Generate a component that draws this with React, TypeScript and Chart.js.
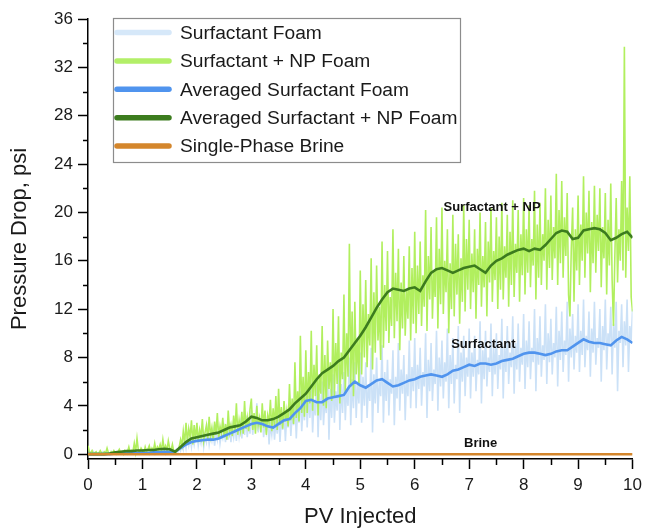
import React, { useEffect, useRef } from 'react';
import { Chart, registerables } from 'chart.js';

Chart.register(...registerables);

// ---------- data ----------
const RAW_STEP = 0.025; // PV spacing of the raw pressure samples
const AVG_STEP = 0.1; // PV spacing of the averaged curves

const surfactantFoam = [
  0.1, 0.0, 0.1, 0.0, 0.2, 0.0, 0.1, 0.0, 0.1, 0.1, 0.0, 0.2, 0.0, 0.1, 0.0, 0.1, 0.0, 0.2, 0.0, 0.1,
  0.0, 0.1, 0.0, 0.2, 0.1, 0.0, 0.1, 0.0, 0.2, 0.0, 0.1, 0.0, 0.1, 0.0, 0.2, 0.0, 0.1, 0.1, 0.0, 0.2,
  0.1, 0.0, 0.2, 0.1, 0.3, 0.0, 0.2, 0.1, 0.2, 0.0, 0.3, 0.1, 0.2, 0.1, 0.4, 0.1, 0.2, 0.0, 0.3, 0.1,
  0.2, 0.1, 0.3, 0.1, 0.2, 0.4, 0.2, 0.6, 0.3, 0.9, 0.4, 1.2, 0.5, 1.4, 0.7, 1.3, 0.6, 1.6, 0.8, 1.5,
  1.8, 0.7, 1.4, 0.9, 1.7, 0.6, 1.5, 1.0, 2.0, 0.8, 1.6, 1.1, 1.9, 0.7, 1.8, 1.2, 2.3, 0.9, 1.7, 1.3,
  2.1, 1.0, 2.4, 1.2, 2.6, 1.0, 2.2, 1.4, 2.4, 1.1, 2.7, 1.5, 2.5, 1.3, 2.9, 1.6, 3.2, 1.4, 2.8, 1.7,
  3.6, 1.6, 3.0, 2.0, 4.2, 1.8, 2.8, 2.2, 3.4, 1.4, 2.6, 1.9, 3.2, 0.8, 2.4, 1.6, 3.0, 1.2, 2.8, 1.7,
  3.5, 1.0, 2.9, 2.0, 3.8, 1.1, 3.2, 2.2, 4.0, 1.5, 3.4, 2.4, 4.4, 1.3, 3.8, 2.6, 5.2, 1.9, 4.2, 2.8,
  6.2, 2.2, 4.8, 3.0, 5.6, 1.8, 4.4, 3.2, 6.8, 1.4, 5.0, 2.8, 6.0, 2.4, 4.6, 3.4, 7.2, 1.2, 5.4, 3.0,
  6.6, 2.6, 5.2, 3.6, 7.4, 2.0, 5.8, 3.4, 6.8, 2.8, 5.4, 4.0, 8.0, 2.4, 6.2, 3.8, 7.6, 3.0, 6.0, 4.2,
  8.4, 2.6, 6.4, 4.0, 7.6, 3.0, 5.8, 4.4, 8.8, 1.8, 6.6, 4.2, 8.0, 3.4, 6.0, 4.8, 9.0, 2.6, 6.8, 4.4,
  7.8, 3.2, 6.2, 5.0, 8.6, 2.4, 6.4, 4.6, 9.2, 3.6, 7.0, 5.0, 8.2, 2.8, 6.6, 4.8, 9.4, 3.8, 7.2, 5.2,
  9.6, 3.8, 7.4, 5.4, 8.8, 4.0, 6.8, 5.6, 10.0, 3.0, 7.8, 5.2, 9.2, 4.4, 7.0, 5.8, 10.2, 3.6, 8.0, 5.6,
  9.4, 4.6, 7.6, 6.0, 10.4, 3.8, 8.2, 5.8, 9.6, 4.2, 7.4, 6.2, 10.6, 3.4, 8.4, 6.0, 9.8, 4.8, 8.0, 6.4,
  10.4, 4.6, 8.4, 6.4, 9.8, 5.2, 7.8, 6.6, 11.0, 4.2, 8.6, 6.2, 10.2, 5.6, 8.0, 6.8, 10.8, 4.8, 8.8, 6.6,
  10.0, 5.4, 8.2, 7.0, 11.2, 4.6, 9.0, 6.8, 10.6, 5.8, 8.4, 7.2, 11.4, 5.0, 9.2, 7.0, 10.8, 6.0, 8.8, 7.4,
  11.6, 5.4, 9.4, 7.2, 11.0, 6.2, 8.8, 7.6, 12.0, 5.2, 9.6, 7.4, 11.4, 6.4, 9.0, 7.8, 12.4, 5.8, 10.0, 7.6,
  11.2, 6.6, 9.2, 8.0, 12.2, 5.6, 10.2, 7.8, 11.8, 6.8, 9.4, 8.2, 12.6, 6.0, 10.4, 8.0, 11.6, 7.0, 9.8, 8.4,
  12.4, 6.8, 10.2, 8.2, 12.8, 7.2, 9.8, 8.6, 11.8, 6.4, 10.4, 8.4, 12.6, 7.4, 9.6, 8.8, 12.0, 6.0, 10.6, 8.6,
  12.8, 7.0, 10.0, 9.0, 12.2, 6.6, 10.8, 8.8, 12.6, 5.2, 10.2, 9.2, 12.4, 7.2, 11.0, 9.0, 12.8, 6.8, 10.6, 9.4,
  12.0,
];

const npFoam = [
  0.7, 0.2, 0.1, 0.3, 0.0, 0.1, 0.2, 0.0, 0.1, 0.3, 0.1, 0.0, 0.2, 0.1, 0.5, 0.1, 0.0, 0.2, 0.1, 0.3,
  0.1, 0.0, 0.2, 0.4, 0.1, 0.2, 0.0, 0.3, 0.1, 0.2, 0.6, 0.1, 0.3, 0.2, 0.9, 0.2, 1.3, 0.3, 0.2, 0.5,
  0.3, 0.1, 0.6, 0.2, 0.4, 0.7, 0.2, 0.5, 0.3, 0.9, 0.2, 0.6, 0.4, 0.8, 0.3, 1.2, 0.4, 0.7, 0.3, 1.1,
  0.5, 0.3, 0.8, 0.2, 0.3, 0.2, 0.4, 0.6, 1.2, 0.7, 1.9, 0.9, 2.6, 1.0, 2.1, 1.4, 2.8, 0.8, 2.4, 1.2,
  2.6, 1.0, 2.0, 1.4, 2.9, 1.1, 1.8, 2.4, 1.2, 3.1, 1.5, 2.2, 1.1, 2.7, 1.6, 3.4, 1.3, 2.3, 1.7, 3.0,
  1.4, 2.5, 1.2, 3.6, 1.8, 2.4, 1.5, 3.2, 1.9, 4.2, 1.6, 2.8, 2.0, 3.5, 1.7, 4.4, 2.1, 3.0, 1.9, 3.7,
  4.6, 2.0, 3.4, 1.7, 4.0, 2.4, 3.0, 1.8, 4.2, 2.2, 3.6, 1.6, 3.2, 2.6, 4.5, 1.9, 3.8, 2.3, 4.8, 2.0,
  5.4, 2.4, 3.9, 2.1, 4.4, 2.7, 3.6, 2.3, 5.8, 2.8, 4.6, 2.5, 7.6, 3.0, 5.2, 2.7, 9.8, 3.4, 6.4, 3.1,
  8.6, 3.4, 6.8, 4.2, 10.2, 3.6, 7.4, 4.8, 9.0, 3.2, 6.6, 5.0, 10.6, 4.0, 8.2, 3.8, 9.4, 5.4, 7.6, 4.4,
  12.0, 4.8, 9.2, 5.8, 11.4, 4.2, 8.4, 6.2, 13.2, 5.0, 10.0, 6.4, 17.4, 5.6, 11.8, 4.8, 12.6, 6.6, 9.6, 5.8,
  15.2, 6.6, 12.4, 8.0, 14.4, 7.2, 11.6, 9.0, 16.2, 7.0, 13.4, 8.4, 15.6, 9.4, 12.2, 7.8, 17.6, 8.8, 14.0, 10.2,
  16.8, 9.2, 13.0, 10.6, 18.6, 9.6, 15.0, 11.0, 17.0, 8.6, 14.2, 10.4, 16.4, 9.8, 13.6, 11.2, 17.2, 9.4, 15.4, 10.8,
  18.4, 10.0, 15.6, 11.6, 17.6, 10.6, 14.8, 12.2, 20.2, 10.2, 16.4, 12.8, 18.8, 11.2, 15.2, 13.0, 19.6, 10.4, 17.0, 12.4,
  20.4, 11.6, 16.0, 13.4, 18.6, 10.0, 15.8, 12.0, 19.8, 11.4, 17.4, 13.2, 18.2, 10.8, 16.2, 12.6, 20.6, 11.8, 17.8, 13.6,
  19.4, 12.0, 16.6, 13.4, 18.6, 11.2, 17.0, 14.0, 20.0, 12.2, 16.4, 13.8, 19.2, 11.4, 17.6, 14.2, 20.4, 12.6, 16.8, 14.4,
  19.6, 12.0, 18.0, 13.6, 20.8, 12.8, 17.2, 14.6, 19.8, 12.2, 18.4, 14.0, 21.0, 13.0, 17.4, 15.0, 20.2, 12.6, 18.2, 14.8,
  21.2, 13.2, 18.6, 15.0, 20.6, 13.8, 17.8, 15.6, 21.8, 12.8, 19.0, 14.6, 20.8, 14.0, 18.2, 16.0, 22.0, 13.6, 19.4, 15.4,
  21.4, 14.4, 18.8, 16.2, 23.2, 14.0, 20.2, 15.8, 22.6, 14.6, 19.6, 16.4, 21.6, 13.2, 11.4, 17.0, 20.4, 12.6, 18.6, 15.2,
  21.4, 14.0, 19.0, 16.0, 23.0, 14.6, 20.0, 16.6, 21.8, 13.4, 19.2, 15.8, 22.2, 15.0, 19.8, 16.8, 22.0, 13.8, 18.8, 16.2,
  21.6, 13.2, 19.4, 15.6, 22.4, 14.4, 10.6, 16.4, 21.2, 14.2, 18.6, 16.0, 22.6, 15.2, 33.7, 14.6, 20.4, 16.8, 23.0, 13.0,
  11.8,
];

const avgSurfactant = [
  0, 0, 0, 0, 0, 0.05, 0.05, 0.1, 0.1, 0.1,
  0.1, 0.1, 0.15, 0.15, 0.2, 0.2, 0.2, 0.5, 0.8, 1.0,
  1.1, 1.15, 1.2, 1.2, 1.3, 1.5, 1.7, 1.9, 2.1, 2.3,
  2.5, 2.6, 2.5, 2.3, 2.2, 2.5, 2.8, 2.9, 3.4, 3.8,
  4.4, 4.5, 4.3, 4.3, 4.6, 4.7, 4.8, 4.9, 5.6, 6.0,
  5.7, 5.5, 5.8, 6.1, 6.2, 5.9, 5.6, 5.7, 5.9, 6.1,
  6.2, 6.4, 6.5, 6.6, 6.5, 6.4, 6.6, 6.9, 7.0, 7.2,
  7.4, 7.3, 7.5, 7.5, 7.4, 7.5, 7.7, 7.8, 7.9, 8.1,
  8.3, 8.4, 8.4, 8.3, 8.2, 8.3, 8.5, 8.6, 8.6, 8.9,
  9.2, 9.5, 9.3, 9.2, 9.2, 9.1, 9.0, 9.4, 9.7, 9.5,
  9.2,
];

const avgNp = [
  0, 0, 0, 0, 0.05, 0.15, 0.2, 0.25, 0.25, 0.3,
  0.3, 0.35, 0.35, 0.4, 0.45, 0.4, 0.2, 0.6, 1.0, 1.3,
  1.4, 1.5, 1.6, 1.7, 1.8, 2.0, 2.2, 2.3, 2.4, 2.7,
  3.1, 3.0, 2.8, 2.8, 2.9, 3.1, 3.4, 3.7, 4.2, 4.6,
  5.0, 5.6, 6.2, 6.7, 7.0, 7.3, 7.7, 8.0, 8.6, 9.2,
  9.8, 10.5, 11.3, 12.1, 12.8, 13.4, 13.7, 13.6, 13.5, 13.7,
  13.8, 13.5, 14.3, 15.0, 15.3, 15.4, 15.2, 15.0, 15.2, 15.4,
  15.5, 15.6, 15.3, 15.0, 15.6, 16.0, 16.2, 16.5, 16.7, 16.9,
  17.0, 16.8, 17.0, 16.9, 17.3, 17.8, 18.3, 18.5, 18.4, 17.8,
  17.9, 18.5, 18.6, 18.7, 18.6, 18.3, 17.7, 17.9, 18.2, 18.4,
  17.9,
];

const brineX = [0, 10];
const brineY = [0, 0];

const xMajorTicks = [0, 1, 2, 3, 4, 5, 6, 7, 8, 9, 10];
const xMinorTicks = [0.5, 1.5, 2.5, 3.5, 4.5, 5.5, 6.5, 7.5, 8.5, 9.5];
const yMajorTicks = [0, 4, 8, 12, 16, 20, 24, 28, 32, 36];
const yMinorTicks = [2, 6, 10, 14, 18, 22, 26, 30, 34];

const seriesNames = [
  'Surfactant Foam',
  'Surfactant + NP Foam',
  'Averaged Surfactant Foam',
  'Averaged Surfactant + NP Foam',
  'Single-Phase Brine',
];

const annotationTexts = ['Surfactant + NP', 'Surfactant', 'Brine'];
const annotationX = [7.42, 7.26, 7.21];
const annotationY = [20.4, 9.1, 0.9];

const xTitle = 'PV Injected';
const yTitle = 'Pressure Drop, psi';

// ---------- styles ----------
const COLORS = ['#cbe1f7', '#b1ef5e', '#5094ee', '#3c7c1e', '#d4862c'];
const LEGEND_COLORS = ['#d6e8f9', '#b3ef68', '#5094ee', '#3c7c1e', '#d4862c'];
const FONT = '"Liberation Sans", Arial, sans-serif';
const TEXT = '#1a1a1a';

const toPoints = (ys: number[], step: number) => ys.map((y, i) => ({ x: +(i * step).toFixed(3), y }));

const extrasPlugin = {
  id: 'extras',
  afterDraw(chart: any) {
    const { ctx, chartArea, scales } = chart;
    const xs = scales.x;
    const ys = scales.y;
    ctx.save();
    // minor ticks
    ctx.strokeStyle = '#000';
    ctx.lineWidth = 1.5;
    ctx.beginPath();
    xMinorTicks.forEach((v) => {
      const px = Math.round(xs.getPixelForValue(v)) + 0.5;
      ctx.moveTo(px, chartArea.bottom);
      ctx.lineTo(px, chartArea.bottom + 6);
    });
    yMinorTicks.forEach((v) => {
      const py = Math.round(ys.getPixelForValue(v)) + 0.5;
      ctx.moveTo(chartArea.left - 5, py);
      ctx.lineTo(chartArea.left, py);
    });
    ctx.stroke();

    // annotations
    ctx.fillStyle = '#111';
    ctx.font = `bold 13px ${FONT}`;
    ctx.textAlign = 'center';
    ctx.textBaseline = 'middle';
    annotationTexts.forEach((t, i) => {
      ctx.fillText(t, xs.getPixelForValue(annotationX[i]), ys.getPixelForValue(annotationY[i]));
    });

    // legend
    const left = chartArea.left + 25;
    const top = chartArea.top - 1;
    const w = 347;
    const h = 144;
    ctx.fillStyle = '#fff';
    ctx.fillRect(left, top, w, h);
    ctx.strokeStyle = '#8c8c8c';
    ctx.lineWidth = 1.2;
    ctx.strokeRect(left + 0.5, top + 0.5, w, h);
    ctx.font = `19.2px ${FONT}`;
    ctx.textAlign = 'left';
    ctx.textBaseline = 'middle';
    ctx.lineCap = 'round';
    seriesNames.forEach((name, i) => {
      const cy = top + 14.5 + i * 28.4;
      ctx.strokeStyle = LEGEND_COLORS[i];
      ctx.lineWidth = 5.5;
      ctx.beginPath();
      ctx.moveTo(left + 4, cy);
      ctx.lineTo(left + 56, cy);
      ctx.stroke();
      ctx.fillStyle = TEXT;
      ctx.fillText(name, left + 67, cy + 1);
    });
    ctx.restore();
  },
};

export default function App() {
  const ref = useRef<HTMLCanvasElement>(null);

  useEffect(() => {
    if (!ref.current) return;
    const chart = new Chart(ref.current, {
      type: 'line',
      data: {
        datasets: [
          {
            label: seriesNames[4],
            data: brineX.map((x, i) => ({ x, y: brineY[i] })),
            borderColor: COLORS[4],
            borderWidth: 2.5,
            pointRadius: 0,
          },
          {
            label: seriesNames[3],
            data: toPoints(avgNp, AVG_STEP),
            borderColor: COLORS[3],
            borderWidth: 2.6,
            pointRadius: 0,
          },
          {
            label: seriesNames[2],
            data: toPoints(avgSurfactant, AVG_STEP),
            borderColor: COLORS[2],
            borderWidth: 2.6,
            pointRadius: 0,
          },
          {
            label: seriesNames[1],
            data: toPoints(npFoam, RAW_STEP),
            borderColor: COLORS[1],
            borderWidth: 1.6,
            pointRadius: 0,
          },
          {
            label: seriesNames[0],
            data: toPoints(surfactantFoam, RAW_STEP),
            borderColor: COLORS[0],
            borderWidth: 1.6,
            pointRadius: 0,
          },
        ],
      },
      options: {
        animation: false,
        responsive: false,
        devicePixelRatio: 1,
        layout: { padding: { top: 19, right: 12, bottom: 0, left: 0 } },
        plugins: { legend: { display: false }, tooltip: { enabled: false } },
        elements: { line: { tension: 0 } },
        scales: {
          x: {
            type: 'linear',
            min: 0,
            max: 10,
            afterBuildTicks: (s: any) => {
              s.ticks = xMajorTicks.map((v) => ({ value: v }));
            },
            afterFit: (s: any) => {
              s.height = 69;
            },
            grid: { drawOnChartArea: false, drawTicks: true, tickLength: 10, tickColor: '#000', tickWidth: 1.5 },
            border: { display: true, color: '#000', width: 1.5 },
            ticks: { color: TEXT, font: { family: FONT, size: 17 }, padding: 6, maxRotation: 0, autoSkip: false },
            title: {
              display: true,
              text: xTitle,
              color: TEXT,
              font: { family: FONT, size: 22, lineHeight: 1 },
              padding: { top: 0, bottom: 0 },
            },
          },
          y: {
            type: 'linear',
            min: -0.4,
            max: 36,
            afterBuildTicks: (s: any) => {
              s.ticks = yMajorTicks.map((v) => ({ value: v }));
            },
            afterFit: (s: any) => {
              s.width = 88;
            },
            grid: { drawOnChartArea: false, drawTicks: true, tickLength: 10, tickColor: '#000', tickWidth: 1.5 },
            border: { display: true, color: '#000', width: 1.5 },
            ticks: { color: TEXT, font: { family: FONT, size: 17 }, padding: 5, autoSkip: false },
            title: {
              display: true,
              text: yTitle,
              color: TEXT,
              font: { family: FONT, size: 22, lineHeight: 1 },
              padding: { top: 9, bottom: 0 },
            },
          },
        },
      },
      plugins: [extrasPlugin],
    });
    return () => chart.destroy();
  }, []);

  return (
    <div style={{ position: 'fixed', left: 0, top: 0, width: 648, height: 528, background: '#fff' }}>
      <canvas ref={ref} width={648} height={528} style={{ width: 648, height: 528 }} />
    </div>
  );
}
